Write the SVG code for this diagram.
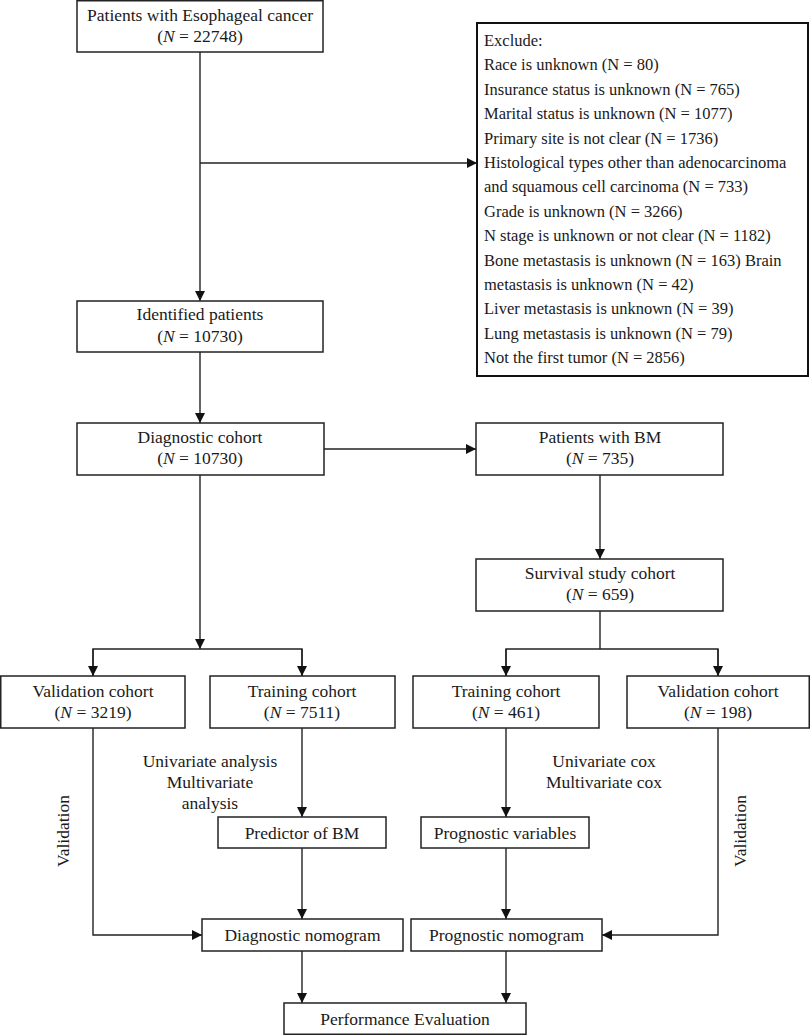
<svg xmlns="http://www.w3.org/2000/svg" width="810" height="1035" viewBox="0 0 810 1035">
<defs>
<style>
.box{fill:#fff;stroke:#222;stroke-width:1.5}
.ex{fill:#fff;stroke:#111;stroke-width:2}
.t{font-family:"Liberation Serif","Times New Roman",serif;font-size:17.5px;fill:#1a1a1a;text-anchor:middle}
.e{font-family:"Liberation Serif","Times New Roman",serif;font-size:16.5px;fill:#1a1a1a}
.c{fill:none;stroke:#222;stroke-width:1.4}
.i{font-style:italic}
</style>
<marker id="ah" markerUnits="userSpaceOnUse" markerWidth="10" markerHeight="10" refX="10" refY="5" orient="auto">
<path d="M0,0 L10,5 L0,10 z" fill="#111"/>
</marker>
</defs>
<rect width="810" height="1035" fill="#fff"/>
<g id="connectors">
<path class="c" d="M200,52 V301" marker-end="url(#ah)"/>
<path class="c" d="M200,163 H477" marker-end="url(#ah)"/>
<path class="c" d="M200,352 V423" marker-end="url(#ah)"/>
<path class="c" d="M324,449 H476" marker-end="url(#ah)"/>
<path class="c" d="M600,475 V559" marker-end="url(#ah)"/>
<path class="c" d="M200,475 V649" marker-end="url(#ah)"/>
<path class="c" d="M93,676 V649 H302 V676" />
<path class="c" d="M93,649 V676" marker-end="url(#ah)"/>
<path class="c" d="M302,649 V676" marker-end="url(#ah)"/>
<path class="c" d="M600,611 V649"/>
<path class="c" d="M506,676 V649 H718 V676"/>
<path class="c" d="M506,649 V676" marker-end="url(#ah)"/>
<path class="c" d="M718,649 V676" marker-end="url(#ah)"/>
<path class="c" d="M93,728 V935 H202" marker-end="url(#ah)"/>
<path class="c" d="M302,728 V817" marker-end="url(#ah)"/>
<path class="c" d="M302,848 V919" marker-end="url(#ah)"/>
<path class="c" d="M506,728 V817" marker-end="url(#ah)"/>
<path class="c" d="M506,848 V919" marker-end="url(#ah)"/>
<path class="c" d="M718,728 V935 H602" marker-end="url(#ah)"/>
<path class="c" d="M302,951 V1003" marker-end="url(#ah)"/>
<path class="c" d="M506,951 V1003" marker-end="url(#ah)"/>
</g>
<g id="labels">
<text class="t" x="210" y="767">Univariate analysis</text>
<text class="t" x="210" y="788">Multivariate</text>
<text class="t" x="210" y="809">analysis</text>
<text class="t" x="604" y="767">Univariate cox</text>
<text class="t" x="604" y="788">Multivariate cox</text>
<text class="t" transform="translate(69,831) rotate(-90)" x="0" y="0">Validation</text>
<text class="t" transform="translate(746,831) rotate(-90)" x="0" y="0">Validation</text>
</g>
<g id="n-start">
<rect class="box" x="77" y="0.75" width="246" height="51.25"/>
<text class="t" x="200" y="21">Patients with Esophageal cancer</text>
<text class="t" x="200" y="42">(<tspan class="i">N</tspan> = 22748)</text>
</g>
<g id="n-exclude">
<rect class="ex" x="477" y="23" width="331" height="353"/>
<text class="e" x="484" y="46">Exclude:</text>
<text class="e" x="484" y="70.4">Race is unknown (N = 80)</text>
<text class="e" x="484" y="94.8">Insurance status is unknown (N = 765)</text>
<text class="e" x="484" y="119.2">Marital status is unknown (N = 1077)</text>
<text class="e" x="484" y="143.6">Primary site is not clear (N = 1736)</text>
<text class="e" x="484" y="168">Histological types other than adenocarcinoma</text>
<text class="e" x="484" y="192.4">and squamous cell carcinoma (N = 733)</text>
<text class="e" x="484" y="216.8">Grade is unknown (N = 3266)</text>
<text class="e" x="484" y="241.2">N stage is unknown or not clear (N = 1182)</text>
<text class="e" x="484" y="265.6">Bone metastasis is unknown (N = 163) Brain</text>
<text class="e" x="484" y="290">metastasis is unknown (N = 42)</text>
<text class="e" x="484" y="314.4">Liver metastasis is unknown (N = 39)</text>
<text class="e" x="484" y="338.8">Lung metastasis is unknown (N = 79)</text>
<text class="e" x="484" y="363.2">Not the first tumor (N = 2856)</text>
</g>
<g id="n-identified">
<rect class="box" x="77" y="301" width="246" height="51"/>
<text class="t" x="200" y="320">Identified patients</text>
<text class="t" x="200" y="342">(<tspan class="i">N</tspan> = 10730)</text>
</g>
<g id="n-diagnostic">
<rect class="box" x="77" y="423" width="247" height="52"/>
<text class="t" x="200" y="443">Diagnostic cohort</text>
<text class="t" x="200" y="464">(<tspan class="i">N</tspan> = 10730)</text>
</g>
<g id="n-bm">
<rect class="box" x="476" y="423" width="247" height="52"/>
<text class="t" x="600" y="443">Patients with BM</text>
<text class="t" x="600" y="464">(<tspan class="i">N</tspan> = 735)</text>
</g>
<g id="n-survival">
<rect class="box" x="476" y="559" width="247" height="52"/>
<text class="t" x="600" y="579">Survival study cohort</text>
<text class="t" x="600" y="600">(<tspan class="i">N</tspan> = 659)</text>
</g>
<g id="n-val-left">
<rect class="box" x="0.75" y="676" width="184.25" height="52"/>
<text class="t" x="93" y="697">Validation cohort</text>
<text class="t" x="93" y="718">(<tspan class="i">N</tspan> = 3219)</text>
</g>
<g id="n-train-left">
<rect class="box" x="210" y="676" width="185" height="52"/>
<text class="t" x="302" y="697">Training cohort</text>
<text class="t" x="302" y="718">(<tspan class="i">N</tspan> = 7511)</text>
</g>
<g id="n-train-right">
<rect class="box" x="413" y="676" width="186" height="52"/>
<text class="t" x="506" y="697">Training cohort</text>
<text class="t" x="506" y="718">(<tspan class="i">N</tspan> = 461)</text>
</g>
<g id="n-val-right">
<rect class="box" x="627" y="676" width="182.25" height="52"/>
<text class="t" x="718" y="697">Validation cohort</text>
<text class="t" x="718" y="718">(<tspan class="i">N</tspan> = 198)</text>
</g>
<g id="n-predictor">
<rect class="box" x="218" y="817" width="168" height="31"/>
<text class="t" x="302" y="838.5">Predictor of BM</text>
</g>
<g id="n-progvars">
<rect class="box" x="421" y="817" width="168" height="31"/>
<text class="t" x="505" y="838.5">Prognostic variables</text>
</g>
<g id="n-diag-nomo">
<rect class="box" x="202" y="919" width="201" height="32"/>
<text class="t" x="302.5" y="941">Diagnostic nomogram</text>
</g>
<g id="n-prog-nomo">
<rect class="box" x="411" y="919" width="191" height="32"/>
<text class="t" x="506.5" y="941">Prognostic nomogram</text>
</g>
<g id="n-perf">
<rect class="box" x="284" y="1003" width="242" height="31.25"/>
<text class="t" x="405" y="1025">Performance Evaluation</text>
</g>
</svg>
